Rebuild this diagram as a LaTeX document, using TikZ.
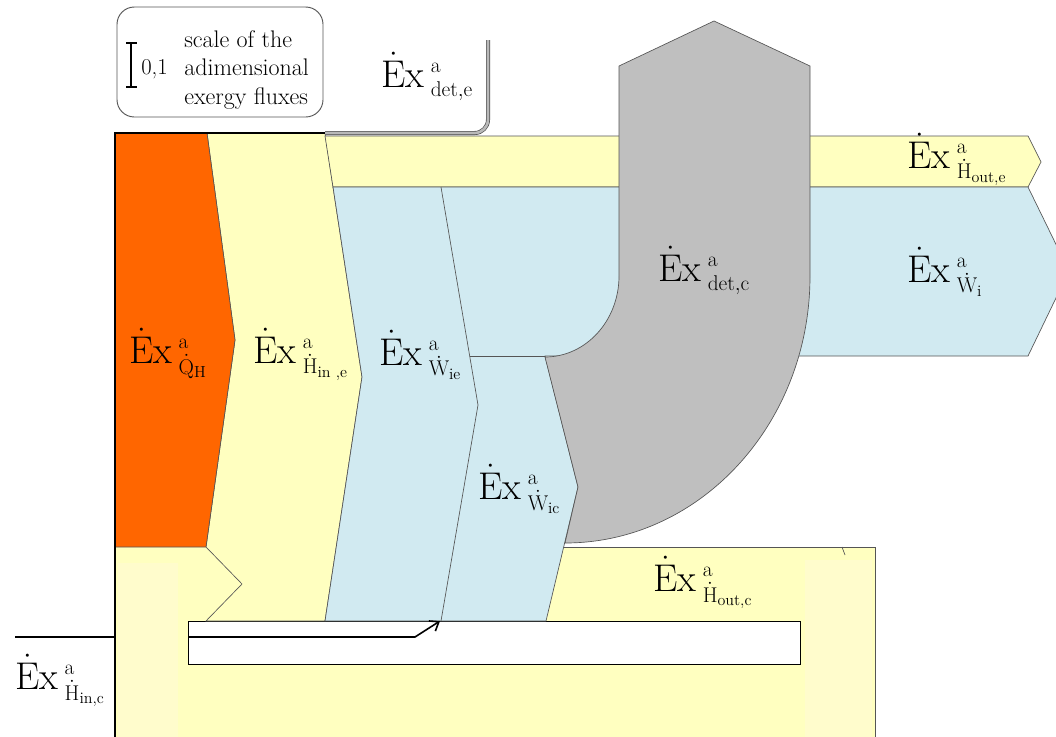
\RequirePackage{fix-cm}
\documentclass[tikz,border=0pt]{standalone}
\usepackage{amsmath}
\usepackage{fontspec}
\usepackage{tikz}
\usetikzlibrary{arrows.meta,positioning,calc}

\DeclareMathSizes{29}{29}{16}{12}
\definecolor{exorange}{RGB}{255,102,0}
\definecolor{exyellow}{RGB}{255,255,192}
\definecolor{expale}{RGB}{255,252,204}
\definecolor{exblue}{RGB}{209,234,241}
\definecolor{exgray}{RGB}{191,191,191}
\definecolor{exline}{RGB}{85,85,85}
\newcommand{\Exa}[1]{$\dot{\mathrm{E}}{\mathrm{x}\mkern3mu}^{\mathrm{a}}_{#1}$}

\begin{document}
\begin{tikzpicture}[x=0.75pt,y=-0.75pt,
  flow/.style={draw=exline,line width=0.5pt},
  exlabel/.style={inner sep=0pt,anchor=base west,font=\fontsize{29}{29}\selectfont},
  legendtext/.style={inner sep=0pt,font=\fontsize{18}{21.5}\selectfont},
  detline/.style={draw=gray!60!black,double=gray!55,double distance=2pt,line width=0.5pt,rounded corners=10}]
  \useasboundingbox (0,0) rectangle (1056,736);
  \clip (0,0) rectangle (1056,736);
  % 下側の枠（H_out,c の流れ）
  \fill[exyellow] (115,547) rectangle (875,740); % 下の黄色の領域
  \fill[expale] (118,563) rectangle (178,740); % 左側の薄い帯
  \fill[expale] (805,560) rectangle (872,740); % 右側の薄い帯
  \draw[flow] (563,547) -- (875,547) -- (875,740); % 上側と右側の縁
  \draw[flow] (842,547) -- (845,555); % 小さなかぎ
  \draw[flow,draw=black,fill=white] (188,621) rectangle (800,664); % 白い帯
  % 左から順に流れの帯
  \filldraw[flow,fill=exyellow] (207,133) -- (325,133) -- (333,187) -- (362,377) -- (325,621) -- (206,621) -- (242,584) -- (206,547) -- (235,340) -- cycle; % H_in,e の帯
  \filldraw[flow,fill=exorange] (115,133) -- (207,133) -- (235,340) -- (206,547) -- (115,547) -- cycle; % Q_H の帯
  \filldraw[flow,fill=exyellow] (325,136) -- (1028,136) -- (1041,162) -- (1028,187) -- (333,187) -- cycle; % H_out,e の帯
  \filldraw[flow,fill=exblue] (333,187) -- (1028,187) -- (1069,271) -- (1028,356) -- (790,356) -- (545,356) -- (578,487) -- (546,621) -- (325,621) -- (362,377) -- cycle; % W_i の帯
  \draw[flow] (441,187) -- (478,405) -- (441,621); % W_ie と W_ic の境目
  \draw[flow] (470,356) -- (545,356); % W_ic の上端
  \filldraw[flow,fill=exgray] (619,66) -- (714,21) -- (810,66) -- (810,276) .. controls (810,423.5) and (700.3,543) .. (565,543) -- (578,487) -- (545,357) .. controls (585.9,357) and (619,320.7) .. (619,276) -- cycle; % det,c の曲がった帯
  % 外枠
  \draw[black,line width=1pt] (325,133) -- (115,133) -- (115,740); % 左と上の枠線
  \coordinate (dete-a) at (325,133);
  \coordinate (dete-b) at (488,40);
  \draw[detline] (dete-a) -| (dete-b); % det,e の流れ
  % H_in,c の入口
  \coordinate (hinc-a) at (15,637);
  \coordinate (hinc-b) at (115,637);
  \coordinate (hinc-c) at (188,637);
  \coordinate (hinc-d) at (415,637);
  \coordinate (hinc-e) at (440,621);
  \draw[line width=1.2pt] (hinc-a) -- (hinc-b); % 外から入る線
  \draw[line width=1.2pt,-{Straight Barb[length=6pt,width=9pt]}] (hinc-c) -- (hinc-d) -- (hinc-e); % 白い帯の中の矢印
  % 凡例
  \draw[exline,line width=0.7pt,rounded corners=13] (117,7) rectangle (323,117); % 凡例の枠
  \draw[line width=1.5pt] (126,43) -- (137,43) (131,43) -- (131,87) (126,87) -- (137,87); % 尺度の棒
  \node[legendtext,anchor=base west,font=\fontsize{17}{17}\selectfont] (scaleval) at (141,74) {0,1};
  \node[legendtext,align=left,anchor=north west] (scaletext) at (184,30) {scale of the\\adimensional\\exergy fluxes};
  % ラベル
  \node[exlabel] (exQH) at (129,363) {\Exa{\dot{\mathrm{Q}}_{\mathrm{H}}}};
  \node[exlabel] (exHine) at (253,363) {\Exa{\dot{\mathrm{H}}_{\text{in ,e}}}};
  \node[exlabel] (exWie) at (379,365) {\Exa{\dot{\mathrm{W}}_{\mathrm{ie}}}};
  \node[exlabel] (exWic) at (478,499) {\Exa{\dot{\mathrm{W}}_{\mathrm{ic}}}};
  \node[exlabel] (exdetc) at (658,281) {\Exa{\mathrm{det,c}}};
  \node[exlabel] (exWi) at (907,282) {\Exa{\dot{\mathrm{W}}_{\mathrm{i}}}};
  \node[exlabel] (exHoute) at (907,168) {\Exa{\dot{\mathrm{H}}_{\mathrm{out,e}}}};
  \node[exlabel] (exdete) at (381,87) {\Exa{\mathrm{det,e}}};
  \node[exlabel] (exHoutc) at (653,591) {\Exa{\dot{\mathrm{H}}_{\mathrm{out,c}}}};
  \node[exlabel] (exHinc) at (15,689) {\Exa{\dot{\mathrm{H}}_{\mathrm{in,c}}}};
\end{tikzpicture}
\end{document}
